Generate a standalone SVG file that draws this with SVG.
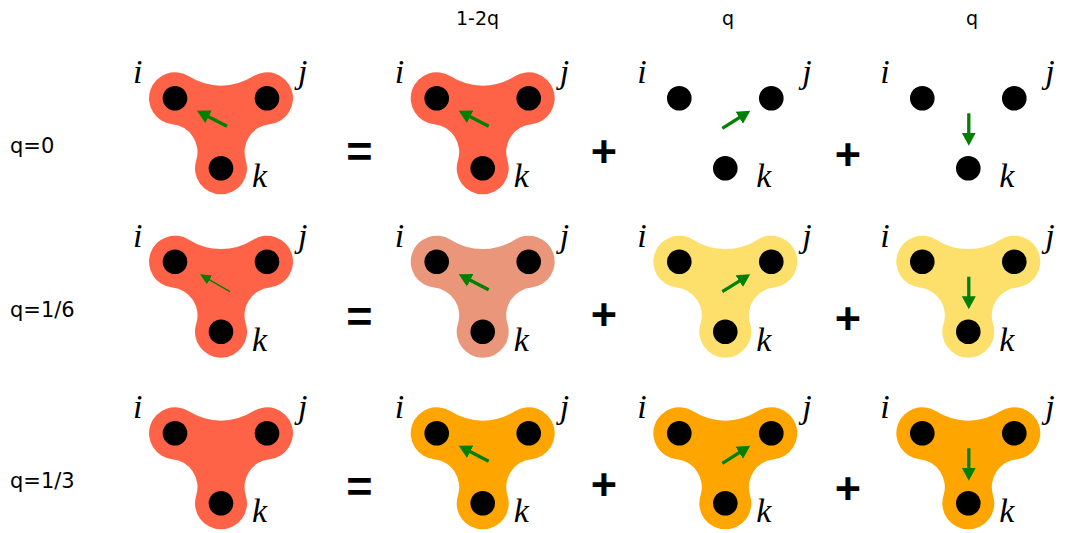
<svg xmlns="http://www.w3.org/2000/svg" xmlns:xlink="http://www.w3.org/1999/xlink" width="1072" height="533" viewBox="0 0 1072 533">
<style>
.red{fill:#FF6347}
.salmon{fill:#E9967A}
.yellow{fill:#FDE06C}
.orange{fill:#FFA500}
.dot{fill:#000}
.m{font-family:"Liberation Serif",serif;font-style:italic;font-size:34px;fill:#000}
.lbl{font-family:"DejaVu Sans",sans-serif;font-size:21px;fill:#000}
.hdr{font-family:"DejaVu Sans",sans-serif;font-size:19px;fill:#000;text-anchor:middle}
.op{font-family:"Liberation Sans",sans-serif;font-weight:bold;font-size:45px;fill:#000;text-anchor:middle}
.ar{stroke:#008000;stroke-width:3.3;fill:none;marker-end:url(#ah)}
.ars{stroke:#008000;stroke-width:1.4;fill:none;marker-end:url(#ahs)}
</style>
<defs>
<path id="blob" d="M13.91,-21.97 A60,60 0 0 0 78.09,-21.97 A26,26 0 1 1 94.64,25.87 A28,28 0 0 0 70.79,62.16 A26,26 0 1 1 21.21,62.16 A28,28 0 0 0 -2.64,25.87 A26,26 0 1 1 13.91,-21.97 Z"/>
<g id="dots">
<circle class="dot" cx="0" cy="0" r="12.3"/>
<circle class="dot" cx="92" cy="0" r="12.3"/>
<circle class="dot" cx="46" cy="70" r="12.3"/>
</g>
<marker id="ah" markerUnits="userSpaceOnUse" viewBox="0 0 16 16" markerWidth="16" markerHeight="16" refX="1" refY="8" orient="auto"><path d="M0,1 L13,8 L0,15 Z" fill="#008000"/></marker>
<marker id="ahs" markerUnits="userSpaceOnUse" viewBox="0 0 16 16" markerWidth="16" markerHeight="16" refX="1" refY="8" orient="auto"><path d="M0,3 L11,8 L0,13 Z" fill="#008000"/></marker>
</defs>

<g id="headers">
<text class="hdr" x="477.5" y="25">1-2q</text>
<text class="hdr" x="728" y="25">q</text>
<text class="hdr" x="972" y="25">q</text>
</g>

<g id="row-labels">
<text class="lbl" x="10" y="153">q=0</text>
<text class="lbl" x="10" y="317">q=1/6</text>
<text class="lbl" x="10" y="488">q=1/3</text>
</g>

<g id="operators">
<text class="op" x="359.5" y="166.5">=</text>
<text class="op" x="604" y="167">+</text>
<text class="op" x="848" y="170">+</text>
<text class="op" x="359.5" y="331.5">=</text>
<text class="op" x="604" y="330">+</text>
<text class="op" x="848" y="334">+</text>
<text class="op" x="359.5" y="502">=</text>
<text class="op" x="604" y="500">+</text>
<text class="op" x="848" y="504">+</text>
</g>

<!-- row 1 -->
<g id="r1c0" transform="translate(175,98.3)">
<use xlink:href="#blob" class="red"/><use xlink:href="#dots"/>
<text class="m" x="-42" y="-15">i</text><text class="m" x="123" y="-15">j</text><text class="m" x="77" y="89">k</text>
</g>
<g id="r1c1" transform="translate(436.7,98.3)">
<use xlink:href="#blob" class="red"/><use xlink:href="#dots"/>
<text class="m" x="-42" y="-15">i</text><text class="m" x="123" y="-15">j</text><text class="m" x="77" y="89">k</text>
</g>
<g id="r1c2" transform="translate(679.3,98.3)">
<use xlink:href="#dots"/>
<text class="m" x="-42" y="-15">i</text><text class="m" x="123" y="-15">j</text><text class="m" x="77" y="89">k</text>
</g>
<g id="r1c3" transform="translate(922.3,98.3)">
<use xlink:href="#dots"/>
<text class="m" x="-42" y="-15">i</text><text class="m" x="123" y="-15">j</text><text class="m" x="77" y="89">k</text>
</g>

<!-- row 2 -->
<g id="r2c0" transform="translate(175,261.7)">
<use xlink:href="#blob" class="red"/><use xlink:href="#dots"/>
<text class="m" x="-42" y="-15">i</text><text class="m" x="123" y="-15">j</text><text class="m" x="77" y="89">k</text>
</g>
<g id="r2c1" transform="translate(436.7,261.7)">
<use xlink:href="#blob" class="salmon"/><use xlink:href="#dots"/>
<text class="m" x="-42" y="-15">i</text><text class="m" x="123" y="-15">j</text><text class="m" x="77" y="89">k</text>
</g>
<g id="r2c2" transform="translate(679.3,261.7)">
<use xlink:href="#blob" class="yellow"/><use xlink:href="#dots"/>
<text class="m" x="-42" y="-15">i</text><text class="m" x="123" y="-15">j</text><text class="m" x="77" y="89">k</text>
</g>
<g id="r2c3" transform="translate(922.3,261.7)">
<use xlink:href="#blob" class="yellow"/><use xlink:href="#dots"/>
<text class="m" x="-42" y="-15">i</text><text class="m" x="123" y="-15">j</text><text class="m" x="77" y="89">k</text>
</g>

<!-- row 3 -->
<g id="r3c0" transform="translate(175,433.3)">
<use xlink:href="#blob" class="red"/><use xlink:href="#dots"/>
<text class="m" x="-42" y="-15">i</text><text class="m" x="123" y="-15">j</text><text class="m" x="77" y="89">k</text>
</g>
<g id="r3c1" transform="translate(436.7,433.3)">
<use xlink:href="#blob" class="orange"/><use xlink:href="#dots"/>
<text class="m" x="-42" y="-15">i</text><text class="m" x="123" y="-15">j</text><text class="m" x="77" y="89">k</text>
</g>
<g id="r3c2" transform="translate(679.3,433.3)">
<use xlink:href="#blob" class="orange"/><use xlink:href="#dots"/>
<text class="m" x="-42" y="-15">i</text><text class="m" x="123" y="-15">j</text><text class="m" x="77" y="89">k</text>
</g>
<g id="r3c3" transform="translate(922.3,433.3)">
<use xlink:href="#blob" class="orange"/><use xlink:href="#dots"/>
<text class="m" x="-42" y="-15">i</text><text class="m" x="123" y="-15">j</text><text class="m" x="77" y="89">k</text>
</g>

<g id="arrows">
<line class="ar" x1="227" y1="126.3" x2="207.65" y2="116.3"/>
<line class="ar" x1="488.7" y1="126.3" x2="469.35" y2="116.3"/>
<line class="ar" x1="722.3" y1="128.3" x2="740.1" y2="117.2"/>
<line class="ar" x1="968.8" y1="113.3" x2="968.8" y2="133.8"/>
<line class="ars" x1="230" y1="291.7" x2="208.65" y2="279.3"/>
<line class="ar" x1="488.7" y1="289.7" x2="469.35" y2="279.7"/>
<line class="ar" x1="722.3" y1="291.7" x2="740.1" y2="280.6"/>
<line class="ar" x1="968.8" y1="276.7" x2="968.8" y2="297.2"/>
<line class="ar" x1="488.7" y1="461.3" x2="469.35" y2="451.3"/>
<line class="ar" x1="722.3" y1="463.3" x2="740.1" y2="452.2"/>
<line class="ar" x1="968.8" y1="448.3" x2="968.8" y2="468.8"/>
</g>
</svg>
